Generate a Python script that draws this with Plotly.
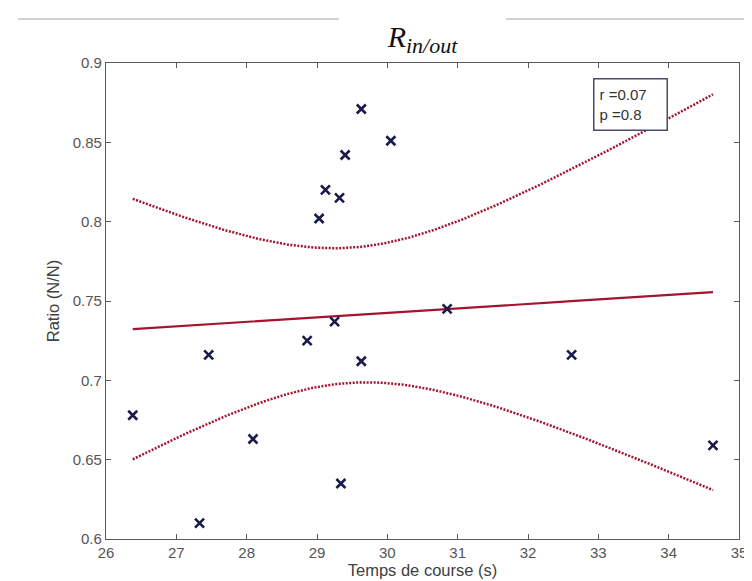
import numpy as np
import plotly.graph_objects as go

# ---- data ----
time_s = [26.38, 27.33, 27.46, 28.09, 28.86, 29.03, 29.12, 29.25, 29.32,
          29.34, 29.40, 29.63, 29.63, 30.05, 30.85, 32.62, 34.63]
ratio = [0.678, 0.610, 0.716, 0.663, 0.725, 0.802, 0.820, 0.737, 0.815,
         0.635, 0.842, 0.871, 0.712, 0.851, 0.745, 0.716, 0.659]
x_ticks = [26, 27, 28, 29, 30, 31, 32, 33, 34, 35]
y_ticks = [0.6, 0.65, 0.7, 0.75, 0.8, 0.85, 0.9]
y_tick_labels = ["0.6", "0.65", "0.7", "0.75", "0.8", "0.85", "0.9"]
stats_lines = ["r =0.07", "p =0.8"]
t_crit = 2.131  # Student t, 95 %, n-2 = 15 dof

# ---- linear fit and 95 % confidence band of the mean ----
x = np.array(time_s)
y = np.array(ratio)
n = len(x)
slope, intercept = np.polyfit(x, y, 1)
xf = np.linspace(x.min(), x.max(), 200)
yf = slope * xf + intercept
resid = y - (slope * x + intercept)
s = np.sqrt((resid ** 2).sum() / (n - 2))
sxx = ((x - x.mean()) ** 2).sum()
half = t_crit * s * np.sqrt(1.0 / n + (xf - x.mean()) ** 2 / sxx)

red = "#A2142F"
navy = "#1A1A4C"
axis_col = "#5a5a5a"
sans = "Liberation Sans, Arial"

fig = go.Figure()
fig.add_trace(go.Scatter(x=xf, y=yf + half, mode="lines",
                         line=dict(color=red, width=2.5, dash="2px,1.5px"),
                         showlegend=False, hoverinfo="skip"))
fig.add_trace(go.Scatter(x=xf, y=yf - half, mode="lines",
                         line=dict(color=red, width=2.5, dash="2px,1.5px"),
                         showlegend=False, hoverinfo="skip"))
fig.add_trace(go.Scatter(x=xf, y=yf, mode="lines",
                         line=dict(color=red, width=2.2),
                         showlegend=False))
fig.add_trace(go.Scatter(x=time_s, y=ratio, mode="markers",
                         marker=dict(symbol="x-thin", size=9,
                                     line=dict(color=navy, width=2.6)),
                         showlegend=False))

axis_common = dict(showline=True, linecolor=axis_col, linewidth=1.3,
                   mirror="ticks", ticks="inside", ticklen=5,
                   tickcolor=axis_col, tickwidth=1, showgrid=False,
                   zeroline=False,
                   tickfont=dict(family=sans, size=15, color="#555555"))

fig.update_layout(
    width=752, height=581,
    paper_bgcolor="white", plot_bgcolor="white",
    margin=dict(l=98, r=21, t=55, b=50),
    title=dict(text="<i>R</i><sub><i><span style='font-size:22px'>in/out</span></i></sub>",
               x=0.5, xref="paper", xanchor="center",
               y=1 - 28 / 581, yref="container", yanchor="middle",
               font=dict(family="Liberation Serif, Times New Roman", size=30,
                         color="#111111")),
    xaxis=dict(range=[26, 35], tickvals=x_ticks,
               title=dict(text="Temps de course (s)", standoff=4,
                          font=dict(family=sans, size=16.5, color="#404040")),
               **axis_common),
    yaxis=dict(range=[0.6, 0.9], tickvals=y_ticks, ticktext=y_tick_labels,
               title=dict(text="Ratio (N/N)", standoff=8,
                          font=dict(family=sans, size=16.5, color="#404040")),
               **axis_common),
)

fig.add_annotation(
    text="<br>".join(stats_lines), xref="paper", yref="paper",
    x=(622 - 98) / 633, y=(531 - 96) / 476, xanchor="center", yanchor="middle",
    showarrow=False, align="left", width=62, height=40,
    font=dict(family=sans, size=15, color="#333333"),
    bordercolor="#4a4a6a", borderwidth=1.5, borderpad=5, bgcolor="white")

# decorative grey rules at the top of the page (document frame)
for x0, x1 in [(10, 331), (498, 752)]:
    fig.add_shape(type="line", xref="paper", yref="paper",
                  x0=(x0 - 98) / 633, x1=(x1 - 98) / 633,
                  y0=(531 - 11) / 476, y1=(531 - 11) / 476,
                  line=dict(color="#c4c4c4", width=1.3))

fig.write_html("out.html")
